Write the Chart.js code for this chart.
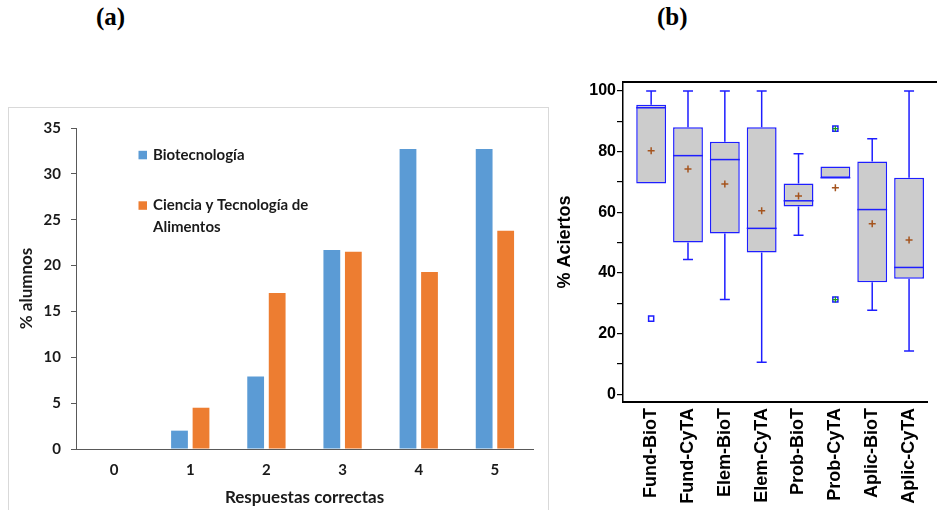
<!DOCTYPE html>
<html>
<head>
<meta charset="utf-8">
<title>Respuestas correctas y % aciertos</title>
<script src="https://cdn.jsdelivr.net/npm/chart.js@4.4.1/dist/chart.umd.min.js"></script>
<style>
    body { margin: 0; background: #fff; }
    #page { position: relative; width: 937px; height: 510px; overflow: hidden; }
    .tag { position: absolute; top: 3px; font-family: 'Liberation Serif', serif; font-weight: bold; font-size: 25px; color: #000; }
    #frameA { position: absolute; left: 8px; top: 107px; width: 541px; height: 430px; box-sizing: border-box; border: 1px solid #d9d9d9; }
    #boxA { position: absolute; left: 8px; top: 107px; width: 541px; height: 403px; }
    #boxB { position: absolute; left: 550px; top: 70px; width: 387px; height: 440px; }
</style>
</head>
<body>
<div id="page">
    <div class="tag" style="left:96px">(a)</div>
    <div class="tag" style="left:657px">(b)</div>
    <div id="frameA"></div>
    <div id="boxA"><canvas id="chartA"></canvas></div>
    <div id="boxB"><canvas id="chartB"></canvas></div>
</div>
<script>
// (a) % alumnos por numero de respuestas correctas
var respuestas = ['0', '1', '2', '3', '4', '5'];
var biotecnologia = [0, 2.0, 7.9, 21.7, 32.7, 32.7];
var cienciaAlimentos = [0, 4.5, 17.0, 21.5, 19.3, 23.8];

// (b) % aciertos por bloque y titulacion (diagrama de cajas)
var grupos = ['Fund-BioT', 'Fund-CyTA', 'Elem-BioT', 'Elem-CyTA', 'Prob-BioT', 'Prob-CyTA', 'Aplic-BioT', 'Aplic-CyTA'];
var maximos = [100, 100, 100, 100, 79.3, 75.1, 84.3, 100];
var q3 = [95.5, 88.1, 83.3, 88.1, 69.5, 75.1, 76.8, 71.4];
var medianas = [94.5, 78.7, 77.4, 54.7, 63.8, 71.4, 60.9, 41.8];
var q1 = [69.5, 50.0, 53.0, 46.7, 61.9, 71.4, 36.9, 38.1];
var minimos = [69.5, 44.4, 31.2, 10.5, 52.4, 71.4, 27.7, 14.2];
var medias = [80.3, 74.3, 69.3, 60.5, 65.4, 68.1, 56.2, 50.9];
// outliers: group number (1..8), value, and whether it is a far outlier
var atipicosGrupo = [1, 6, 6];
var atipicosValor = [24.9, 87.6, 31.2];
var atipicosLejanos = [false, true, true];

var azul = '#1E1EFF';
var fontA = 'Lato';
var fontB = 'Liberation Sans';

Chart.defaults.animation = false;

// Legend drawn inside the plot area, as in the original figure
var leyendaInterna = {
    id: 'leyendaInterna',
    afterDraw: function(chart) {
        var ctx = chart.ctx;
        var filas = [48, 98.5];
        ctx.save();
        ctx.font = 'bold 15px ' + fontA;
        ctx.textBaseline = 'middle';
        chart.data.datasets.forEach(function(ds, i) {
            var y = filas[i];
            ctx.fillStyle = ds.backgroundColor;
            ctx.fillRect(130.5, y - 4.2, 8.5, 8.5);
            ctx.fillStyle = '#1a1a1a';
            var lineas = [].concat(ds.label);
            lineas.forEach(function(t, k) {
                ctx.fillText(t, 145, y + k * 21.5);
            });
        });
        ctx.restore();
    }
};

function initializeBarChart() {
    var ctx = document.getElementById('chartA').getContext('2d');
    new Chart(ctx, {
        type: 'bar',
        data: {
            labels: respuestas,
            datasets: [{
                label: 'Biotecnología',
                data: biotecnologia,
                backgroundColor: '#5B9BD5'
            }, {
                label: ['Ciencia y Tecnología de', 'Alimentos'],
                data: cienciaAlimentos,
                backgroundColor: '#ED7D31'
            }]
        },
        options: {
            responsive: true,
            maintainAspectRatio: false,
            categoryPercentage: 0.565,
            barPercentage: 0.78,
            layout: { padding: { top: 21, right: 16, left: 0, bottom: 0 } },
            plugins: { legend: { display: false }, tooltip: { enabled: false } },
            scales: {
                x: {
                    grid: { display: false, drawTicks: false },
                    border: { display: true, color: '#595959', width: 1 },
                    ticks: {
                        padding: 12,
                        color: '#1a1a1a',
                        font: { family: fontA, weight: 'bold', size: 15 }
                    },
                    title: {
                        display: true,
                        text: 'Respuestas correctas',
                        color: '#1a1a1a',
                        padding: 2,
                        font: { family: fontA, weight: 'bold', size: 17 }
                    },
                    afterFit: function(scale) { scale.height = 61; }
                },
                y: {
                    min: 0,
                    max: 35,
                    grid: { drawOnChartArea: false, tickLength: 5, color: '#595959' },
                    border: { color: '#595959', width: 1 },
                    ticks: {
                        stepSize: 5,
                        padding: 10,
                        color: '#1a1a1a',
                        font: { family: fontA, weight: 'bold', size: 15 }
                    },
                    title: {
                        display: true,
                        text: '% alumnos',
                        color: '#1a1a1a',
                        padding: 8,
                        font: { family: fontA, weight: 'bold', size: 17 }
                    },
                    afterFit: function(scale) { scale.width = 68; }
                }
            }
        },
        plugins: [leyendaInterna]
    });
}

// Whiskers, medians and the top frame line of the box plot
var cajas = {
    id: 'cajas',
    beforeDatasetsDraw: function(chart) {
        var ctx = chart.ctx;
        var xs = chart.scales.x;
        var ys = chart.scales.y;
        ctx.save();
        ctx.strokeStyle = azul;
        ctx.lineWidth = 1.5;
        grupos.forEach(function(g, i) {
            var px = xs.getPixelForValue(i + 1);
            [[q3[i], maximos[i]], [q1[i], minimos[i]]].forEach(function(seg) {
                if (seg[0] === seg[1]) return;
                var a = ys.getPixelForValue(seg[0]);
                var b = ys.getPixelForValue(seg[1]);
                ctx.beginPath();
                ctx.moveTo(px, a);
                ctx.lineTo(px, b);
                ctx.moveTo(px - 5, b);
                ctx.lineTo(px + 5, b);
                ctx.stroke();
            });
        });
        ctx.restore();
    },
    afterDatasetDraw: function(chart, args) {
        if (args.index !== 0) return;
        var ctx = chart.ctx;
        var ys = chart.scales.y;
        ctx.save();
        ctx.strokeStyle = azul;
        ctx.lineWidth = 1.5;
        args.meta.data.forEach(function(bar, i) {
            var ym = ys.getPixelForValue(medianas[i]);
            ctx.beginPath();
            ctx.moveTo(bar.x - bar.width / 2, ym);
            ctx.lineTo(bar.x + bar.width / 2, ym);
            ctx.stroke();
        });
        ctx.restore();
    },
    afterDraw: function(chart) {
        var ctx = chart.ctx;
        var area = chart.chartArea;
        ctx.save();
        ctx.strokeStyle = '#000';
        ctx.lineWidth = 2;
        ctx.beginPath();
        ctx.moveTo(area.left, area.top);
        ctx.lineTo(chart.width, area.top);
        ctx.stroke();
        ctx.restore();
    }
};

function initializeBoxPlot() {
    var ctx = document.getElementById('chartB').getContext('2d');

    var cajasData = grupos.map(function(g, i) {
        return { x: i + 1, y: [q1[i], q3[i]] };
    });
    var mediasData = grupos.map(function(g, i) {
        return { x: i + 1, y: medias[i] };
    });
    var atipicosData = atipicosGrupo.map(function(g, i) {
        return { x: g, y: atipicosValor[i] };
    });
    var lejanosData = atipicosData.filter(function(p, i) {
        return atipicosLejanos[i];
    });

    // higher "order" is drawn first, so boxes go under the markers
    new Chart(ctx, {
        type: 'bar',
        data: {
            datasets: [{
                label: 'Cajas',
                order: 4,
                data: cajasData,
                backgroundColor: '#CCCCCC',
                borderColor: azul,
                borderWidth: 1.5,
                borderSkipped: false,
                barPercentage: 0.81,
                categoryPercentage: 1
            }, {
                type: 'scatter',
                label: 'Media',
                order: 3,
                data: mediasData,
                pointStyle: 'cross',
                radius: 3.5,
                borderColor: '#A5541E',
                borderWidth: 1.5
            }, {
                type: 'scatter',
                label: 'Atípicos',
                order: 2,
                data: atipicosData,
                pointStyle: 'rect',
                radius: 3.6,
                backgroundColor: '#fff',
                borderColor: azul,
                borderWidth: 1.5
            }, {
                type: 'scatter',
                label: 'Atípicos lejanos',
                order: 1,
                data: lejanosData,
                pointStyle: 'cross',
                radius: 3,
                borderColor: '#1a9a1a',
                borderWidth: 1.2
            }]
        },
        options: {
            responsive: true,
            maintainAspectRatio: false,
            layout: { padding: { top: 12, right: 0, left: 0, bottom: 0 } },
            plugins: { legend: { display: false }, tooltip: { enabled: false } },
            scales: {
                x: {
                    type: 'linear',
                    min: 0.236,
                    max: 8.51,
                    offset: false,
                    grid: { display: false, drawTicks: false },
                    border: { display: true, color: '#000', width: 2 },
                    ticks: {
                        stepSize: 1,
                        autoSkip: false,
                        includeBounds: false,
                        minRotation: 90,
                        maxRotation: 90,
                        padding: 6,
                        color: '#000',
                        font: { family: fontB, weight: 'bold', size: 18 },
                        callback: function(value) {
                            return grupos[value - 1] || null;
                        }
                    },
                    afterFit: function(scale) { scale.height = 108; }
                },
                y: {
                    min: -2.6,
                    max: 103,
                    grid: { drawOnChartArea: false, tickLength: 6, color: '#000', lineWidth: 1.2 },
                    border: { color: '#000', width: 1.5 },
                    ticks: {
                        stepSize: 5,
                        includeBounds: false,
                        padding: 1,
                        color: '#000',
                        font: { family: fontB, weight: 'bold', size: 16 },
                        callback: function(value) {
                            return value % 20 === 0 ? value : '';
                        }
                    },
                    title: {
                        display: true,
                        text: '% Aciertos',
                        color: '#000',
                        padding: 4,
                        font: { family: fontB, weight: 'bold', size: 18 }
                    },
                    afterFit: function(scale) { scale.width = 73; }
                }
            }
        },
        plugins: [cajas]
    });
}

document.addEventListener('DOMContentLoaded', function() {
    initializeBarChart();
    initializeBoxPlot();
});
</script>
</body>
</html>
